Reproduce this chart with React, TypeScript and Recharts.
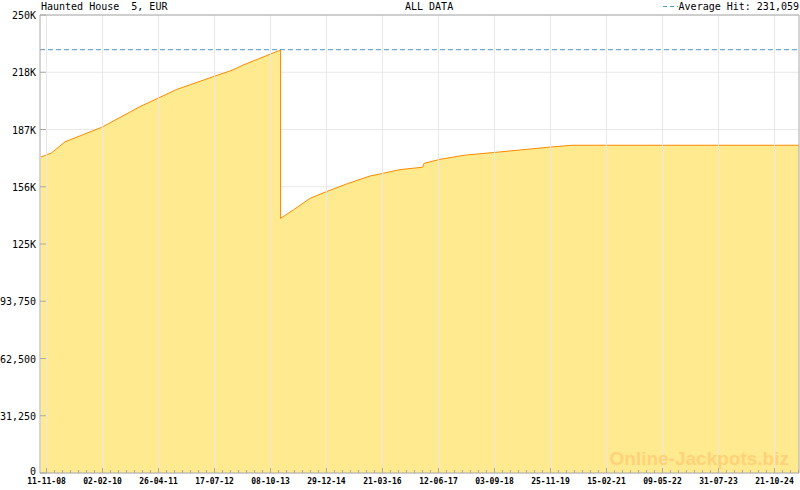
import React from "react";
import {
  ComposedChart,
  Area,
  XAxis,
  YAxis,
  CartesianGrid,
  ReferenceLine,
} from "recharts";

// jackpot history
const dates = [
  "2008-09-28", "2008-12-23", "2009-04-08", "2010-01-27", "2010-11-29",
  "2011-09-19", "2012-07-05", "2012-12-10", "2013-03-02", "2013-07-16",
  "2013-12-27", "2013-12-27", "2014-04-08", "2014-08-20", "2014-12-29",
  "2015-06-09", "2015-12-12", "2016-03-27", "2016-08-08", "2017-02-06",
  "2017-02-16", "2017-06-24", "2017-11-25", "2018-01-24", "2018-09-07",
  "2019-05-23", "2019-11-21", "2020-05-17", "2025-05-05",
];
const jackpot = [
  172500, 174800, 180800, 188700, 200000,
  209400, 216300, 220000, 222700, 226400,
  230900, 139000, 143600, 149900, 153600,
  157800, 162100, 163600, 165600, 166900,
  169000, 171200, 173000, 173600, 175000,
  176700, 177900, 178900, 178900,
];

const xTickDates = [
  "2008-11-11", "2010-02-02", "2011-04-26", "2012-07-17", "2013-10-08",
  "2014-12-29", "2016-03-21", "2017-06-12", "2018-09-03", "2019-11-25",
  "2021-02-15", "2022-05-09", "2023-07-31", "2024-10-21",
];
const yTicks = [0, 31250, 62500, 93750, 125000, 156250, 187500, 218750, 250000];
const averageHit = 231059;

const xStart = Date.parse("2008-09-20");
const xEnd = Date.parse("2025-05-05");

const data = dates.map((d, i) => ({ t: Date.parse(d), v: jackpot[i] }));
const majorTicks = xTickDates.map((d) => Date.parse(d));

// 6 minor ticks between labelled ones (also before the first / after the last)
const step = (majorTicks[1] - majorTicks[0]) / 7;
const allTicks: number[] = [];
for (let t = majorTicks[0] - step; t >= xStart; t -= step) allTicks.unshift(t);
majorTicks.forEach((m, i) => {
  const next = majorTicks[i + 1] ?? xEnd + step;
  const s = (majorTicks[i + 1] ? next - m : step * 7) / 7;
  for (let k = 0; k < 7; k++) {
    const t = m + k * s;
    if (t <= xEnd) allTicks.push(t);
  }
});

const FONT = "'DejaVu Sans Mono', monospace";

const pad = (n: number) => String(n).padStart(2, "0");
const fmtDate = (t: number) => {
  const d = new Date(t);
  return `${pad(d.getUTCDate())}-${pad(d.getUTCMonth() + 1)}-${pad(d.getUTCFullYear() % 100)}`;
};
const fmtY = (v: number) =>
  v >= 100000 ? `${Math.floor(v / 1000)}K` : v.toLocaleString("en-US");

const XTick = ({ x, y, payload }: any) => {
  const major = majorTicks.includes(payload.value);
  return (
    <g>
      <line x1={x} x2={x} y1={y} y2={y - (major ? 5 : 3)} stroke="#aaa" />
      {major && (
        <text x={x} y={y + 11} textAnchor="middle" fontFamily={FONT} fontSize={8} fontWeight="bold" fill="#000">
          {fmtDate(payload.value)}
        </text>
      )}
    </g>
  );
};

const YTick = ({ x, y, payload }: any) => (
  <g>
    <line x1={x} x2={x + 6} y1={y} y2={y} stroke="#aaa" />
    <text
      x={x - 4}
      y={payload.value === 0 ? y + 2 : y + 4}
      textAnchor="end"
      fontFamily={FONT}
      fontSize={10}
      fill="#000"
    >
      {fmtY(payload.value)}
    </text>
  </g>
);

export default function App() {
  return (
    <div style={{ position: "relative", width: 800, height: 490, background: "#fff" }}>
      <style>{`body{margin:0}`}</style>
      <ComposedChart width={800} height={490} data={data} margin={{ top: 15, right: 1, bottom: 0, left: 0 }}>
        <CartesianGrid vertical={false} stroke="#e8e8e8" />
        {majorTicks.map((t) => (
          <ReferenceLine key={t} x={t} stroke="#e8e8e8" />
        ))}
        <XAxis
          dataKey="t"
          type="number"
          domain={[xStart, xEnd]}
          ticks={allTicks}
          interval={0}
          height={17}
          tickSize={0}
          tickMargin={0}
          tick={<XTick />}
          axisLine={{ stroke: "#aaa" }}
          allowDataOverflow
        />
        <YAxis
          type="number"
          domain={[0, 250000]}
          ticks={yTicks}
          interval={0}
          width={40}
          tickSize={0}
          tickMargin={0}
          tick={<YTick />}
          axisLine={{ stroke: "#aaa" }}
        />
        <Area
          type="linear"
          dataKey="v"
          stroke="#ff8a00"
          strokeWidth={1}
          fill="#ffea90"
          fillOpacity={1}
          isAnimationActive={false}
          dot={false}
          activeDot={false}
        />
        <ReferenceLine y={averageHit} stroke="#4a9bc7" strokeDasharray="5 3" />
        <ReferenceLine y={250000} stroke="#aaa" />
        <ReferenceLine x={xEnd} stroke="#aaa" />
      </ComposedChart>
      <svg
        width={800}
        height={490}
        style={{ position: "absolute", left: 0, top: 0, pointerEvents: "none" }}
      >
        <text x={41} y={10} fontFamily={FONT} fontSize={10} fill="#000" style={{ whiteSpace: "pre" }}>
          {"Haunted House  5, EUR"}
        </text>
        <text x={405} y={10} fontFamily={FONT} fontSize={10} fill="#000">
          ALL DATA
        </text>
        <line x1={663} x2={678} y1={6.5} y2={6.5} stroke="#4a9bc7" strokeDasharray="4 3" />
        <text x={799} y={10} textAnchor="end" fontFamily={FONT} fontSize={10} fill="#000">
          Average Hit: 231,059
        </text>
        <text
          x={789}
          y={465}
          textAnchor="end"
          fontFamily="'Liberation Sans', Arial, sans-serif"
          fontWeight="bold"
          fontSize={19}
          fill="#ffd27a"
        >
          Online-Jackpots.biz
        </text>
      </svg>
    </div>
  );
}
